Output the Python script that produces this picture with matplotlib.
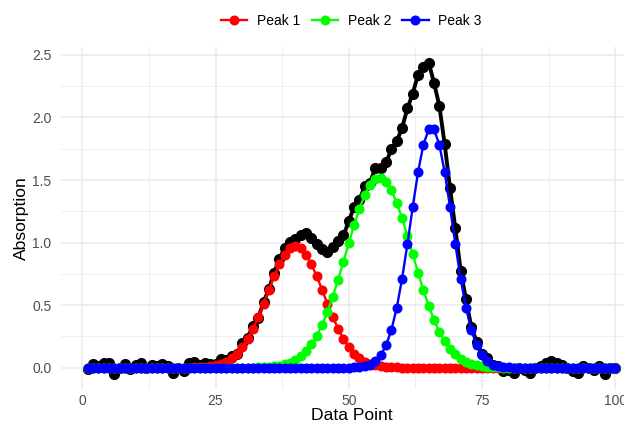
import numpy as np
import matplotlib
matplotlib.use("Agg")
import matplotlib.pyplot as plt

plt.rcParams['font.family'] = ['Liberation Sans', 'DejaVu Sans']

# data point index 1..100
x = np.arange(1, 101)

# individual peaks
peak1 = [0.0] * 19 + [
    0.001, 0.002, 0.003, 0.006, 0.010, 0.018, 0.030, 0.048, 0.075, 0.113,
    0.164, 0.229, 0.311, 0.405, 0.511, 0.622, 0.730, 0.826, 0.903, 0.953,
    0.970, 0.953, 0.903, 0.826, 0.730, 0.622, 0.511, 0.405, 0.311, 0.229,
    0.164, 0.113, 0.075, 0.048, 0.030, 0.018, 0.010, 0.006, 0.003, 0.002,
    0.001] + [0.0] * 40

peak2 = [0.0] * 31 + [
    0.001, 0.002, 0.003, 0.006, 0.010, 0.016, 0.026, 0.040, 0.062,
    0.091, 0.132, 0.187, 0.256, 0.343, 0.447, 0.568, 0.703, 0.848, 0.996,
    1.140, 1.272, 1.382, 1.464, 1.510, 1.518, 1.487, 1.419, 1.319, 1.195,
    1.055, 0.907, 0.760, 0.620, 0.494, 0.382, 0.289, 0.212, 0.152, 0.106,
    0.072, 0.048, 0.031, 0.020, 0.012, 0.007, 0.004, 0.002, 0.001, 0.001,
] + [0.0] * 20

peak3 = [0.0] * 49 + [
    0.001, 0.002, 0.005, 0.011, 0.025, 0.051, 0.099, 0.179, 0.302, 0.479,
    0.710, 0.987, 1.284, 1.563, 1.783, 1.904, 1.904, 1.783, 1.563, 1.284,
    0.987, 0.710, 0.479, 0.302, 0.179, 0.099, 0.051, 0.025, 0.011, 0.005,
    0.002, 0.001] + [0.0] * 19

# measured total absorption (black)
total = [
    -0.010, 0.030, 0.010, 0.040, 0.040, -0.050, 0.000, 0.030, -0.010, 0.020,
    0.040, 0.000, 0.020, 0.010, 0.030, 0.010, -0.040, 0.000, -0.030, 0.041,
    0.042, 0.023, 0.036, 0.030, 0.028, 0.070, 0.058, 0.095, 0.113, 0.194,
    0.239, 0.332, 0.397, 0.524, 0.628, 0.760, 0.872, 0.959, 1.003, 1.032,
    1.064, 1.075, 1.033, 0.986, 0.945, 0.928, 0.963, 1.014, 1.057, 1.171,
    1.285, 1.342, 1.451, 1.479, 1.599, 1.597, 1.642, 1.744, 1.810, 1.916,
    2.072, 2.191, 2.343, 2.403, 2.438, 2.276, 2.092, 1.785, 1.436, 1.113,
    0.772, 0.547, 0.323, 0.209, 0.111, 0.078, 0.019, 0.013, -0.024, -0.017,
    -0.039, 0.000, -0.020, -0.040, 0.000, 0.010, 0.040, 0.050, 0.040, 0.020,
    0.000, -0.030, -0.040, 0.010, 0.000, -0.020, 0.010, -0.050, 0.000, 0.000,
]

fig = plt.figure(figsize=(6.24, 4.29), dpi=100)
ax = fig.add_axes([0.0982, 0.0921, 0.930, 0.798])

ax.plot(x, total, color='black', lw=2.8, marker='o', ms=7, zorder=3)
ax.plot(x, peak1, color='#FF0000', lw=1.7, marker='o', ms=6.2, label='Peak 1', zorder=4)
ax.plot(x, peak2, color='#00FF00', lw=1.7, marker='o', ms=6.2, label='Peak 2', zorder=5)
ax.plot(x, peak3, color='#0000FF', lw=1.7, marker='o', ms=6.2, label='Peak 3', zorder=6)

ax.set_xlim(-3.95, 104.95)
ax.set_ylim(-0.174, 2.562)
ax.set_xticks([0, 25, 50, 75, 100])
ax.set_yticks([0.0, 0.5, 1.0, 1.5, 2.0, 2.5])
ax.set_yticklabels(['0.0', '0.5', '1.0', '1.5', '2.0', '2.5'])
ax.set_xticks([12.5, 37.5, 62.5, 87.5], minor=True)
ax.set_yticks([0.25, 0.75, 1.25, 1.75, 2.25], minor=True)

ax.grid(True, which='major', color='#EBEBEB', lw=1.1, zorder=0)
ax.grid(True, which='minor', color='#EBEBEB', lw=0.55, zorder=0)
ax.set_axisbelow(True)
for s in ax.spines.values():
    s.set_visible(False)
ax.tick_params(which='both', length=0)
ax.tick_params(axis='x', labelsize=10, labelcolor='#4D4D4D', pad=3)
ax.tick_params(axis='y', labelsize=10, labelcolor='#4D4D4D', pad=7)

ax.set_xlabel('Data Point', fontsize=12.6, labelpad=0)
ax.set_ylabel('Absorption', fontsize=12.6, labelpad=2)

ax.legend(loc='center', bbox_to_anchor=(0.5, 1.076), ncol=3, frameon=False,
          fontsize=10, handlelength=1.9, handletextpad=0.7, columnspacing=0.8)

fig.savefig('out.png', dpi=100)
